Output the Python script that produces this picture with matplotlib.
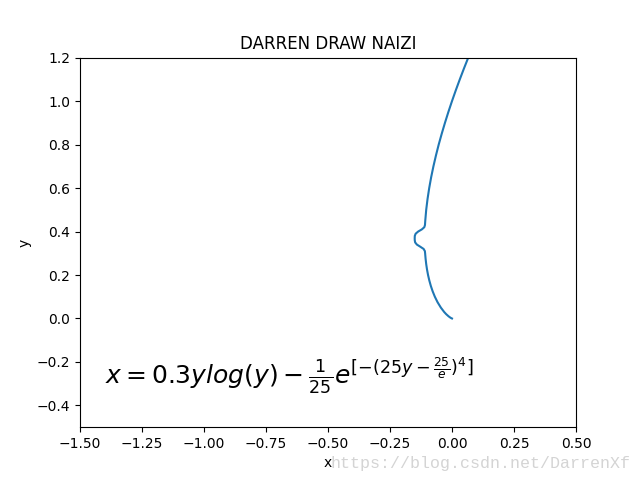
import matplotlib
matplotlib.use("Agg")
import matplotlib.pyplot as plt

# Points (y, x)
y_vals = [0.0, 0.002, 0.005, 0.01, 0.02, 0.03, 0.05, 0.075, 0.1, 0.125, 0.15, 0.175,
          0.2, 0.225, 0.25, 0.275, 0.3, 0.31, 0.32, 0.33, 0.34, 0.35, 0.36, 0.3679,
          0.37, 0.38, 0.39, 0.40, 0.41, 0.42, 0.43, 0.45, 0.5, 0.55, 0.6, 0.65, 0.7,
          0.75, 0.8, 0.85, 0.9, 0.95, 1.0, 1.05, 1.1, 1.15, 1.2]
x_vals = [0.0, -0.0037, -0.0079, -0.0138, -0.0235, -0.0316, -0.0449, -0.0583, -0.0691,
          -0.0780, -0.0854, -0.0915, -0.0966, -0.1007, -0.1040, -0.1065, -0.1084,
          -0.1094, -0.1145, -0.1277, -0.1416, -0.1486, -0.1502, -0.1504, -0.1504,
          -0.1500, -0.1466, -0.1364, -0.1214, -0.1116, -0.1090, -0.1078, -0.1040,
          -0.0986, -0.0919, -0.0840, -0.0749, -0.0647, -0.0536, -0.0414, -0.0284,
          -0.0146, 0.0, 0.0154, 0.0315, 0.0482, 0.0656]

fig, ax = plt.subplots(figsize=(6.4, 4.8), dpi=100)
ax.plot(x_vals, y_vals)
ax.set_xlim(-1.5, 0.5)
ax.set_ylim(-0.5, 1.2)
ax.set_title("DARREN DRAW NAIZI")
ax.set_xlabel("x")
ax.set_ylabel("y")
ax.text(-1.4, -0.3, r'$x=0.3ylog(y)-\frac{1}{25}e^{[-(25y-\frac{25}{e})^4]}$', fontsize=18)
fig.text(0.516, 0.025, "https://blog.csdn.net/DarrenXf", color="#d4d4d4",
         fontsize=12, family="Liberation Mono")
fig.savefig("out.png", dpi=100)
